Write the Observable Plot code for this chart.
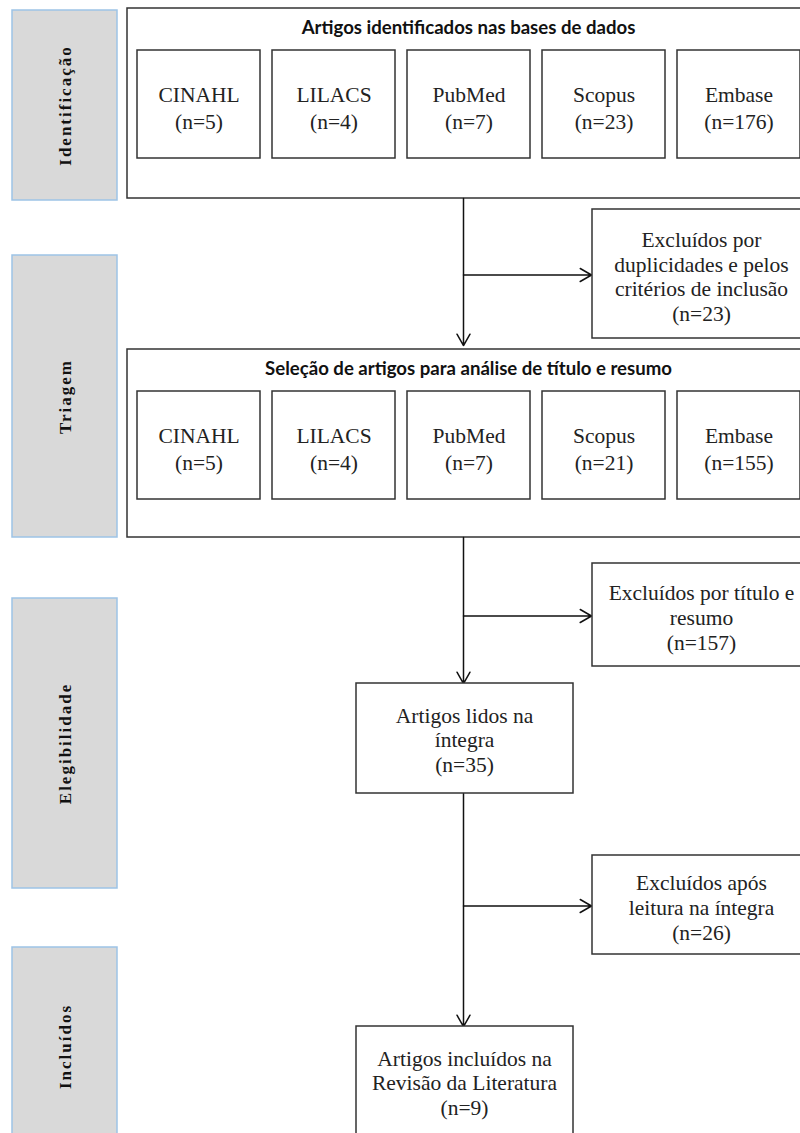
<!DOCTYPE html>
<html>
<head>
<meta charset="utf-8">
<script src="https://cdn.jsdelivr.net/npm/d3@7"></script>
<script src="https://cdn.jsdelivr.net/npm/@observablehq/plot@0.6"></script>
<style>
  html, body { margin: 0; padding: 0; background: #fff; overflow: hidden; }
  #chart svg { display: block; }
</style>
</head>
<body>
<div id="chart"></div>
<script>
// ---------------- DATA ----------------
const stages = ["Identificação", "Triagem", "Elegibilidade", "Incluídos"];
const databases = ["CINAHL", "LILACS", "PubMed", "Scopus", "Embase"];
const identifiedCounts = [5, 4, 7, 23, 176];
const screenedCounts = [5, 4, 7, 21, 155];
const groupTitles = [
  "Artigos identificados nas bases de dados",
  "Seleção de artigos para análise de título e resumo"
];
const exclusionLabels = [
  "Excluídos por\nduplicidades e pelos\ncritérios de inclusão",
  "Excluídos por título e\nresumo",
  "Excluídos após\nleitura na íntegra"
];
const exclusionCounts = [23, 157, 26];
const flowLabels = ["Artigos lidos na\níntegra", "Artigos incluídos na\nRevisão da Literatura"];
const flowCounts = [35, 9];

// ---------------- LAYOUT ----------------
const W = 800, H = 1133;
const stageBand = [[10, 200], [255, 537], [598, 888], [947, 1145]];
const groupBand = [[8, 198], [349, 537]];
const spineX = 463;
const exclBand = [[209, 338], [563, 666], [855, 954]];
const flowBand = [[683, 793], [1026, 1145]];

const stageData = stages.map((s, i) => ({label: s, y1: stageBand[i][0], y2: stageBand[i][1]}));
const groupData = groupTitles.map((t, i) => ({title: t, y1: groupBand[i][0], y2: groupBand[i][1]}));
const dbData = [identifiedCounts, screenedCounts].flatMap((counts, g) =>
  databases.map((d, i) => ({
    text: `${d}\n(n=${counts[i]})`,
    x1: 137 + i * 135, x2: 137 + i * 135 + 123,
    y1: groupBand[g][0] + 42, y2: groupBand[g][0] + 150
  }))
);
const exclData = exclusionLabels.map((t, i) => ({
  text: `${t}\n(n=${exclusionCounts[i]})`, y1: exclBand[i][0], y2: exclBand[i][1]
}));
const flowData = flowLabels.map((t, i) => ({
  text: `${t}\n(n=${flowCounts[i]})`, y1: flowBand[i][0], y2: flowBand[i][1]
}));

const downArrows = [
  {y1: groupBand[0][1], y2: groupBand[1][0] - 4},
  {y1: groupBand[1][1], y2: flowBand[0][0]},
  {y1: flowBand[0][1], y2: flowBand[1][0]}
];
const sideArrows = exclBand.map(b => ({y: (b[0] + b[1]) / 2 + 1}));

const SERIF = "Liberation Serif";
const SANS = "Lato";

const chart = Plot.plot({
  width: W, height: H,
  margin: 0,
  x: {domain: [0, W], range: [0, W], axis: null},
  y: {domain: [0, H], range: [0, H], axis: null},
  style: {background: "#fff", fontFamily: SERIF},
  marks: [
    Plot.rect(stageData, {x1: 12, x2: 117, y1: "y1", y2: "y2", fill: "#d9d9d9", stroke: "#9dc3e6", strokeWidth: 1.5}),
    Plot.text(stageData, {x: 65, y: d => (d.y1 + d.y2) / 2, text: "label", rotate: -90,
      fontFamily: SERIF, fontWeight: "bold", fontSize: 17, fill: "#111"}),
    Plot.rect(groupData, {x1: 127, x2: 830, y1: "y1", y2: "y2", fill: "#fff", stroke: "#333", strokeWidth: 1.5}),
    Plot.text(groupData, {x: 468, y: d => d.y1 + 20, text: "title",
      fontFamily: SANS, fontWeight: "bold", fontSize: 18.6, fill: "#111"}),
    Plot.rect(dbData, {x1: "x1", x2: "x2", y1: "y1", y2: "y2", fill: "#fff", stroke: "#333", strokeWidth: 1.5}),
    Plot.text(dbData, {x: d => (d.x1 + d.x2) / 2, y: d => (d.y1 + d.y2) / 2 + 2, text: "text",
      fontFamily: SERIF, fontSize: 21.5, lineHeight: 1.26, fill: "#222"}),
    Plot.arrow(downArrows, {x1: spineX, x2: spineX, y1: "y1", y2: "y2", stroke: "#111", strokeWidth: 1.5, headLength: 13, headAngle: 60}),
    Plot.arrow(sideArrows, {x1: spineX, x2: 591, y1: "y", y2: "y", stroke: "#111", strokeWidth: 1.5, headLength: 13, headAngle: 60}),
    Plot.rect(exclData, {x1: 592, x2: 812, y1: "y1", y2: "y2", fill: "#fff", stroke: "#333", strokeWidth: 1.5}),
    Plot.text(exclData, {x: 701, y: d => (d.y1 + d.y2) / 2 + 2, text: "text",
      fontFamily: SERIF, fontSize: 21.5, lineHeight: 1.16, fill: "#222"}),
    Plot.rect(flowData, {x1: 356, x2: 573, y1: "y1", y2: "y2", fill: "#fff", stroke: "#333", strokeWidth: 1.5}),
    Plot.text(flowData, {x: 464, y: d => d.y1 + 56, text: "text",
      fontFamily: SERIF, fontSize: 21.5, lineHeight: 1.13, fill: "#222"})
  ]
});
// enforce fonts as inline styles; letter-spacing for the rotated stage labels
const textGroups = Array.from(chart.querySelectorAll('g[aria-label="text"]'));
textGroups.forEach((g, i) => {
  const fam = i === 1 ? SANS : SERIF;
  g.style.fontFamily = `"${fam}"`;
  g.querySelectorAll("text").forEach(t => { t.style.fontFamily = `"${fam}"`; });
});
if (textGroups.length) textGroups[0].setAttribute("letter-spacing", "2");
document.getElementById("chart").appendChild(chart);
</script>
</body>
</html>
